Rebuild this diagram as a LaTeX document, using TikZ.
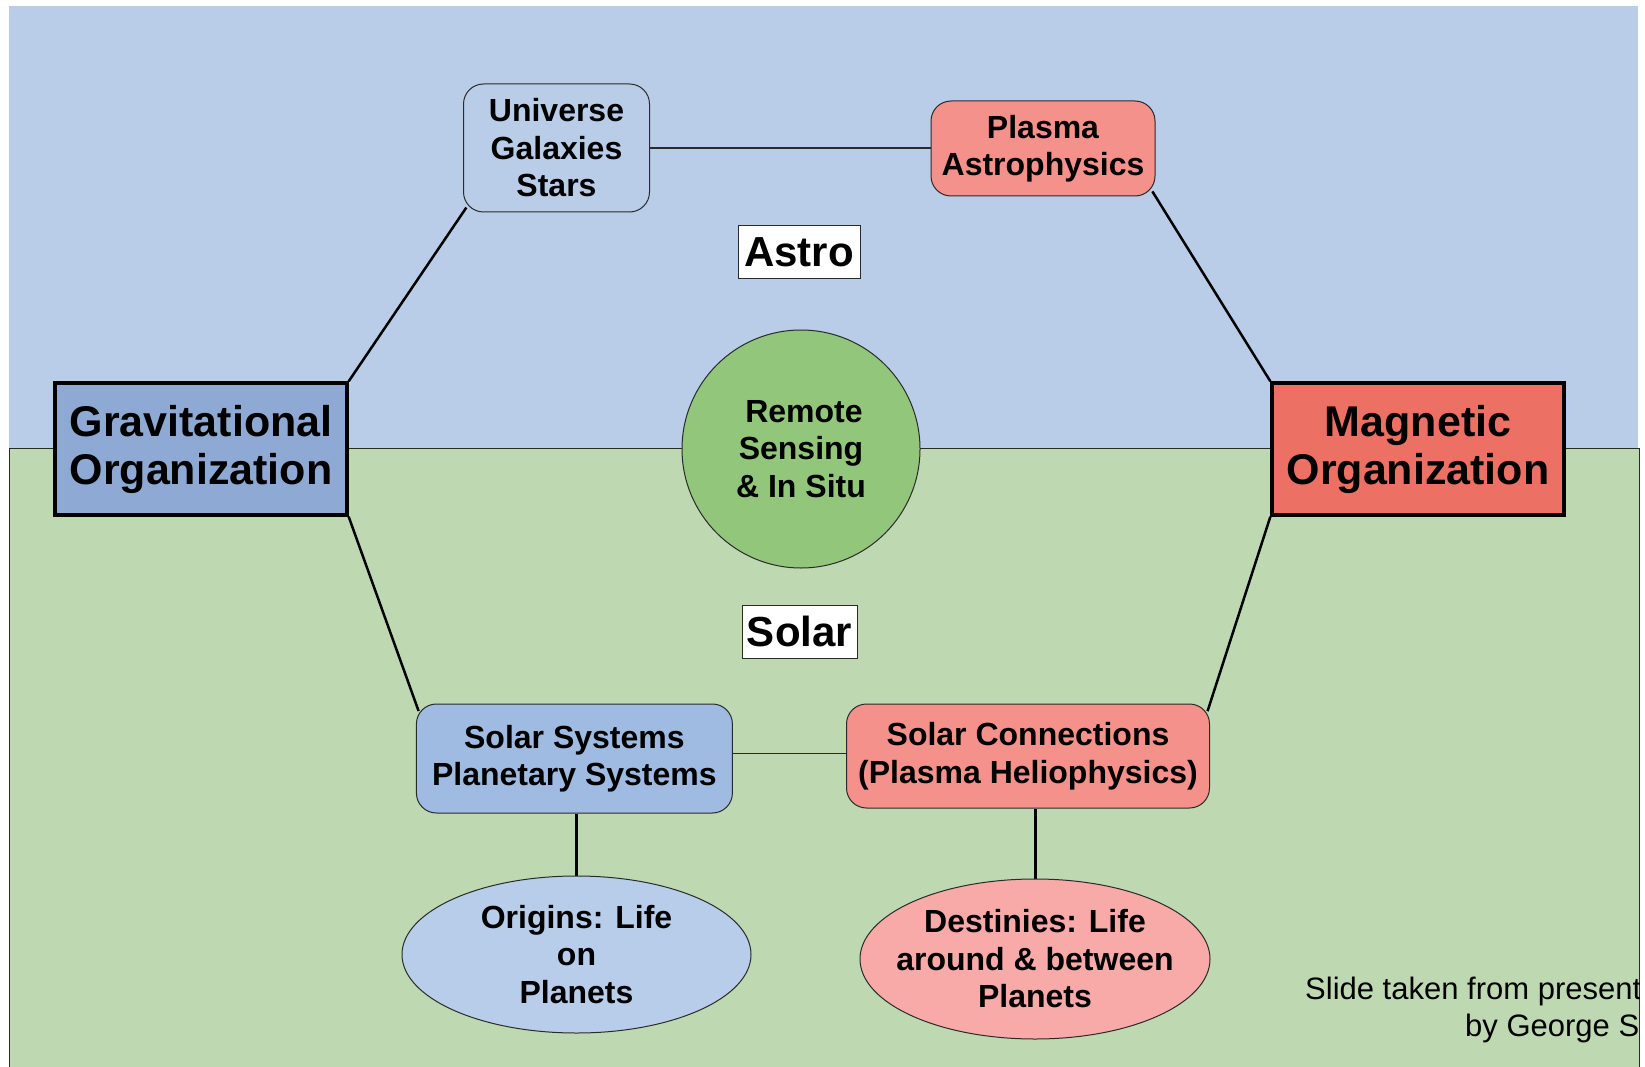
\documentclass[tikz,border=0pt]{standalone}
\usepackage{fontspec}
\setmainfont{Liberation Sans}
\usetikzlibrary{calc,shapes.geometric}
\definecolor{astrobg}{HTML}{B9CDE8}
\definecolor{solarbg}{HTML}{BED9B1}
\definecolor{gravfill}{HTML}{8EA9D3}
\definecolor{magfill}{HTML}{ED7065}
\definecolor{plasmafill}{HTML}{F4918A}
\definecolor{remotefill}{HTML}{92C67A}
\definecolor{ssfill}{HTML}{9FBBE1}
\definecolor{originfill}{HTML}{B8CDE9}
\definecolor{destfill}{HTML}{F7AAA8}
\definecolor{edgegray}{HTML}{2A2A2A}
\pgfdeclarelayer{back}
\pgfdeclarelayer{links}
\pgfsetlayers{back,links,main}
\begin{document}
\begin{tikzpicture}[x=1pt,y=-1pt,
  every node/.style={font=\bfseries\fontsize{32}{37.5}\selectfont, align=center, inner sep=0pt, text=black},
  orgbox/.style={draw=black, line width=3.3pt, minimum width=292pt, minimum height=132pt,
    font=\bfseries\fontsize{43}{48}\selectfont},
  softbox/.style={draw=edgegray, line width=1pt, rounded corners=20pt},
  tag/.style={draw=edgegray, fill=white, line width=1pt, font=\bfseries\fontsize{42}{48}\selectfont},
  oval/.style={ellipse, draw=edgegray, line width=1pt, inner xsep=-45pt, inner ysep=-6pt},
  link/.style={draw=black, line width=2.5pt},
  thinlink/.style={draw=edgegray, line width=1.2pt},
  stem/.style={draw=black, line width=3pt}
]
\useasboundingbox (0,0) rectangle (1645,1067);

% two background regions
\begin{pgfonlayer}{back}
\fill[astrobg] (9,6) rectangle (1638,448);
\filldraw[fill=solarbg, draw=edgegray, line width=1pt] (9,1075) -- (9,448) -- (1639,448) -- (1639,1075);
\end{pgfonlayer}

% nodes
\node[orgbox, fill=gravfill] (grav) at (201,449) {Gravitational\\Organization};
\node[orgbox, fill=magfill] (mag) at (1418,449) {Magnetic\\Organization};
\node[softbox, fill=astrobg, minimum width=186pt, minimum height=128pt] (uni) at (556.5,148) {Universe\\Galaxies\\Stars};
\node[softbox, fill=plasmafill, minimum width=224pt, minimum height=95pt] (pla) at (1043,148.5) {Plasma\\Astrophysics};
\node[tag, minimum width=122pt, minimum height=52pt] (astro) at (799,252) {Astro};
\node[circle, draw=edgegray, line width=1pt, fill=remotefill, minimum size=238pt] (rem) at (801,449) {\hspace*{6pt}Remote\\Sensing\\\& In Situ};
\node[tag, minimum width=115pt, minimum height=53pt] (solar) at (799.5,631.5) {Solar};
\node[softbox, fill=ssfill, minimum width=316pt, minimum height=109pt] (ss) at (574.4,758.5) {Solar Systems\\Planetary Systems};
\node[softbox, fill=plasmafill, minimum width=363pt, minimum height=104pt] (sc) at (1028,756) {Solar Connections\\(Plasma Heliophysics)};
\node[oval, fill=originfill, minimum width=349pt, minimum height=157pt] (orig) at (576.5,954.5) {Origins: Life\\on\\Planets};
\node[oval, fill=destfill, minimum width=350pt, minimum height=160pt] (dest) at (1035,959) {Destinies: Life\\around \& between\\Planets};

% connectors, drawn beneath the boxes so their ends tuck under the rounded corners
\begin{pgfonlayer}{links}
\draw[link, shorten >=-6pt] (grav.north east) -- (uni.south west);
\draw[link, shorten <=-6pt] (pla.south east) -- (mag.north west);
\draw[link, shorten >=-8pt] (grav.south east) -- (ss.north west);
\draw[link, shorten >=-8pt] (mag.south west) -- (sc.north east);
\draw[thinlink] (uni.east) -- (uni.east -| pla.west);
\draw[thinlink] ([yshift=5pt]ss.east) -- ([yshift=5pt]ss.east -| sc.west);
\draw[stem] (orig.north) -- (orig.north |- ss.south);
\draw[stem] (dest.north) -- (dest.north |- sc.south);
\end{pgfonlayer}

% credit line, cut off at the right edge of the slide
\begin{scope}
\clip (0,0) rectangle (1639,1067);
\node[anchor=base west, font=\fontsize{31}{37}\selectfont] (credit1) at (1305,999) {Slide taken from present};
\node[anchor=base west, font=\fontsize{31}{37}\selectfont] (credit2) at (1465,1036.5) {by George S};
\end{scope}
\end{tikzpicture}
\end{document}
